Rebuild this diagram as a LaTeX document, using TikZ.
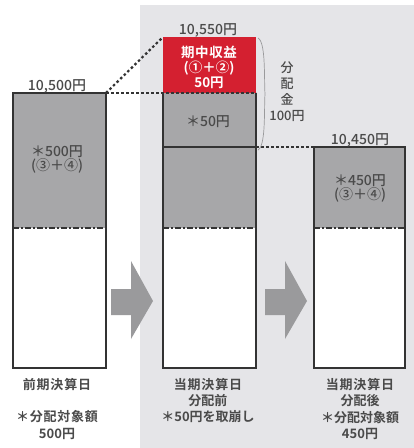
\documentclass[tikz,border=0pt]{standalone}
\usepackage{fontspec}
\setmainfont{Noto Sans CJK JP}
\newfontfamily\jpbold{Noto Sans CJK JP Bold}
\newfontfamily\jpmed{Noto Sans CJK JP Medium}
\usetikzlibrary{decorations.pathreplacing}
\definecolor{panel}{HTML}{E5E5E8}
\definecolor{barfill}{HTML}{A7A7A9}
\definecolor{barline}{HTML}{333333}
\definecolor{redfill}{HTML}{D42030}
\definecolor{txt}{HTML}{4A4A4A}
\definecolor{arrowfill}{HTML}{9A9A9C}
\tikzset{
  outline/.style={draw=barline, line width=2pt},
  dotline/.style={draw=barline, line width=2.2pt, dash pattern=on 2.5pt off 2.5pt},
  dashdotline/.style={draw=barline, line width=1.8pt, dash pattern=on 6pt off 2pt on 2pt off 2pt},
  lbl/.style={text=txt, align=center, inner sep=0pt},
  val/.style={text=txt, font=\jpmed\fontsize{14}{15}\selectfont, inner sep=0pt},
  intext/.style={text=txt, font=\jpmed\fontsize{14}{13}\selectfont, align=center, inner sep=0pt},
  blockarrow/.style={fill=arrowfill, draw=none},
}
\begin{document}
\begin{tikzpicture}[x=1pt,y=-1pt]
\useasboundingbox (0,0) rectangle (414,448);
\fill[white] (0,0) rectangle (414,448);
\fill[panel] (140,5) rectangle (414,448);

% corner coordinates
\coordinate (Ltr) at (106,93);
\coordinate (Mtl) at (163,37);
\coordinate (Mml) at (163,93);
\coordinate (Mmr) at (256,93);
\coordinate (Mbr) at (256,147);
\coordinate (Rtl) at (314,147);

% left bar
\fill[barfill] (13,93) rectangle (106,228);
\fill[white] (13,228) rectangle (106,368);
\draw[outline] (13,93) rectangle (106,368);
\draw[dashdotline] (13,228) -- (106,228);

% middle bar
\fill[redfill] (163,37) rectangle (256,93);
\fill[barfill] (163,93) rectangle (256,228);
\fill[white] (163,228) rectangle (256,368);
\draw[outline] (163,93) -- (163,368) -- (256,368) -- (256,93);
\draw[outline] (163,147) -- (256,147);
\draw[dashdotline] (163,228) -- (256,228);

% right bar
\fill[barfill] (314,147) rectangle (405,228);
\fill[white] (314,228) rectangle (405,368);
\draw[outline] (314,147) rectangle (405,368);
\draw[dashdotline] (314,228) -- (405,228);

% dotted connectors
\draw[dotline] (Ltr) -- (Mtl);
\draw[dotline] (Ltr) -- (Mmr);
\draw[dotline] (Mbr) -- (Rtl);

% brace
\draw[draw=arrowfill, line width=0.7pt] (258,38) .. controls (266,42) and (264,80) .. (265,94) .. controls (264,108) and (266,146) .. (258,150);

% value labels
\node[val] (v1) at (57,86) {10,500円};
\node[val] (v2) at (208,30) {10,550円};
\node[val] (v3) at (360,140) {10,450円};

% texts inside bars
\node[intext] (t1) at (57,159) {＊500円\\(③＋④)};
\node[text=white, font=\jpbold\fontsize{13.5}{15}\selectfont, align=center, inner sep=0pt] (t2) at (209,67) {\addfontfeature{LetterSpace=4}期中収益\\(①＋②)\\50円};
\node[intext] (t3) at (208,122) {＊50円};
\node[intext, font=\jpmed\fontsize{14}{14}\selectfont] (t4) at (360,188) {＊450円\\(③＋④)};
\node[text=txt, font=\jpmed\fontsize{13}{16}\selectfont, align=center, inner sep=0pt] (t5) at (287,92) {分\\配\\金\\100円};

% block arrows
\fill[blockarrow] (111,289) -- (131,289) -- (131,261) -- (153,301) -- (131,339) -- (131,315) -- (111,315) -- cycle;
\fill[blockarrow] (265,289) -- (285,289) -- (285,261) -- (307,301) -- (285,339) -- (285,315) -- (265,315) -- cycle;

% bottom labels
\node[lbl, font=\jpbold\fontsize{13}{14}\selectfont] (b1) at (57,385) {\addfontfeature{LetterSpace=6}前期決算日};
\node[lbl, font=\jpbold\fontsize{13}{17}\selectfont] (b1b) at (57,425) {\addfontfeature{LetterSpace=6}＊分配対象額\\500円};
\node[lbl, font=\jpbold\fontsize{13}{16}\selectfont] (b2) at (208,401) {\addfontfeature{LetterSpace=6}当期決算日\\分配前\\＊50円を取崩し};
\node[lbl, font=\jpbold\fontsize{13}{16.3}\selectfont] (b3) at (360,409) {\addfontfeature{LetterSpace=6}当期決算日\\分配後\\＊分配対象額\\450円};
\end{tikzpicture}
\end{document}
